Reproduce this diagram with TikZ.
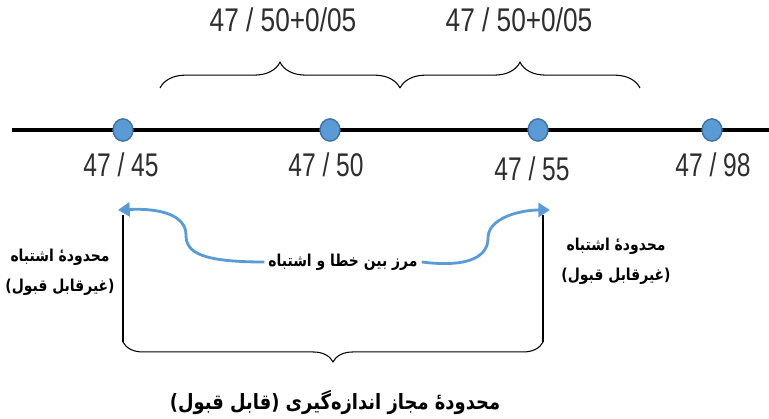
\documentclass[tikz,border=0pt]{standalone}
\usepackage{fontspec}
\setmainfont{Liberation Sans}
\newfontfamily\narrowfont[FakeStretch=0.75]{Liberation Sans}
\newfontfamily\widefont[FakeStretch=0.8]{Liberation Sans}
\newfontfamily\fafont[Script=Arabic,FakeStretch=0.85]{DejaVu Sans}
\TeXXeTstate=1
\usetikzlibrary{shapes.geometric,arrows.meta,decorations.pathreplacing}
\definecolor{dotblue}{HTML}{5B9BD5}
\definecolor{dotedge}{HTML}{41719C}
\definecolor{numgray}{HTML}{2E2E2E}
\tikzset{
  pointdot/.style={ellipse, draw=dotedge, line width=1.2pt, fill=dotblue,
    minimum width=17pt, minimum height=19pt, inner sep=0pt},
  numlbl/.style={text=numgray, font=\narrowfont\fontsize{28}{28}\selectfont},
  sumlbl/.style={text=numgray, font=\widefont\fontsize{28}{28}\selectfont},
  falbl/.style={font=\fafont\bfseries\fontsize{14}{26}\selectfont, align=center},
  bluearrow/.style={draw=dotblue, line width=2.4pt, -{Triangle[length=10pt,width=12pt]}},
  bracestyle/.style={decorate, decoration={brace, amplitude=#1}, line width=0.9pt},
}
\begin{document}
\begin{tikzpicture}[x=0.03cm, y=-0.03cm]
    \useasboundingbox (0,0) rectangle (769,418);

    % number line
    \coordinate (axL) at (12,130);
    \coordinate (axR) at (769,130);
    \draw[line width=3pt] (axL) -- (axR);
    \node[pointdot] (p45) at (123,130) {};
    \node[pointdot] (p50) at (330,130) {};
    \node[pointdot] (p55) at (538,130) {};
    \node[pointdot] (p98) at (712,130) {};
    \node[numlbl] (l45) at (121,165) {47 / 45};
    \node[numlbl] (l50) at (326,165) {47 / 50};
    \node[numlbl] (l55) at (532,169) {47 / 55};
    \node[numlbl] (l98) at (713,165) {47 / 98};

    % tolerance on each side
    \coordinate (b1) at (160,88);
    \coordinate (b2) at (400,88);
    \coordinate (b3) at (640,88);
    \draw[bracestyle=22pt] (b1) -- (b2);
    \draw[bracestyle=22pt] (b2) -- (b3);
    \node[sumlbl] (s1) at (283,20) {47 / 50+0/05};
    \node[sumlbl] (s2) at (519,20) {47 / 50+0/05};

    % acceptable range
    \coordinate (vL1) at (123,215);
    \coordinate (vL2) at (123,342);
    \coordinate (vR1) at (543,215);
    \coordinate (vR2) at (543,342);
    \draw[line width=0.9pt] (vL1) -- (vL2);
    \draw[line width=0.9pt] (vR1) -- (vR2);
    \draw[bracestyle=17pt] (vR2) -- (vL2);
    \node[falbl, font=\fafont\bfseries\fontsize{18}{20}\selectfont] (ok) at (335,402)
      {\beginR محدودهٔ مجاز اندازه‌گیری (قابل قبول)\endR};

    % error zones
    \node[falbl] (errL) at (60,272) {\beginR محدودهٔ اشتباه\endR\\\beginR (غیرقابل قبول)\endR};
    \node[falbl] (errR) at (616,261) {\beginR محدودهٔ اشتباه\endR\\\beginR (غیرقابل قبول)\endR};

    % boundary arrows
    \node[falbl] (edge) at (343,262) {\beginR مرز بین خطا و اشتباه\endR};
    \coordinate (tipL) at (118,210);
    \coordinate (tipR) at (550,210);
    \draw[bluearrow] (edge.west) .. controls (200,262) and (186,252) .. (186,235)
      .. controls (186,215) and (160,208) .. (tipL);
    \draw[bluearrow] (edge.east) .. controls (470,268) and (488,256) .. (488,238)
      .. controls (488,218) and (520,210) .. (tipR);
\end{tikzpicture}
\end{document}
